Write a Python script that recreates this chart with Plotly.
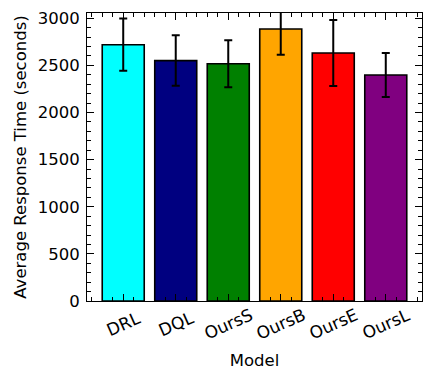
import plotly.graph_objects as go

models = ["DRL", "DQL", "OursS", "OursB", "OursE", "OursL"]
mean_time = [2719, 2550, 2517, 2885, 2630, 2397]
std_time = [277, 268, 250, 272, 350, 233]
colors = ["#00FFFF", "#000080", "#008000", "#FFA500", "#FF0000", "#800080"]

font_family = "DejaVu Sans"
xpos = list(range(len(models)))

fig = go.Figure()
fig.add_trace(go.Bar(
    x=xpos, y=mean_time, width=0.8,
    marker=dict(color=colors, line=dict(color="black", width=1.6)),
    error_y=dict(type="data", array=std_time, visible=True,
                 color="black", thickness=2, width=4),
    showlegend=False, hoverinfo="skip",
))

for i, m in enumerate(models):
    fig.add_annotation(x=i, xref="x", y=-0.079, yref="paper",
                       text=m, showarrow=False, textangle=-24,
                       xanchor="center", yanchor="middle",
                       font=dict(family=font_family, size=17, color="black"))

axis_common = dict(showline=True, linecolor="black", linewidth=1, mirror="allticks",
                   ticks="inside", tickcolor="black", tickwidth=1, showgrid=False,
                   zeroline=False, automargin=False)

fig.update_layout(
    width=428, height=370,
    margin=dict(l=87, r=6, t=13, b=69),
    paper_bgcolor="white", plot_bgcolor="white",
    font=dict(family=font_family, size=17, color="black"),
    xaxis=dict(range=[-0.69, 5.69], tickmode="linear", tick0=0, dtick=1, ticklen=7,
               showticklabels=False,
               minor=dict(tickmode="linear", tick0=0, dtick=0.2, ticks="inside", ticklen=4,
                          tickcolor="black", tickwidth=1),
               title=dict(text="Model", standoff=53, font=dict(size=16.5)),
               **axis_common),
    yaxis=dict(range=[0, 3055], tickmode="linear", tick0=0, dtick=500, ticklen=7,
               ticklabelstandoff=3,
               minor=dict(tickmode="linear", tick0=0, dtick=100, ticks="inside", ticklen=4,
                          tickcolor="black", tickwidth=1),
               title=dict(text="Average Response Time (seconds)", standoff=6, font=dict(size=16.5)),
               tickfont=dict(size=16.5),
               **axis_common),
)

fig.write_html("out.html", config={"displayModeBar": False},
               post_script="document.body.style.margin='0';document.body.style.overflow='hidden';")
